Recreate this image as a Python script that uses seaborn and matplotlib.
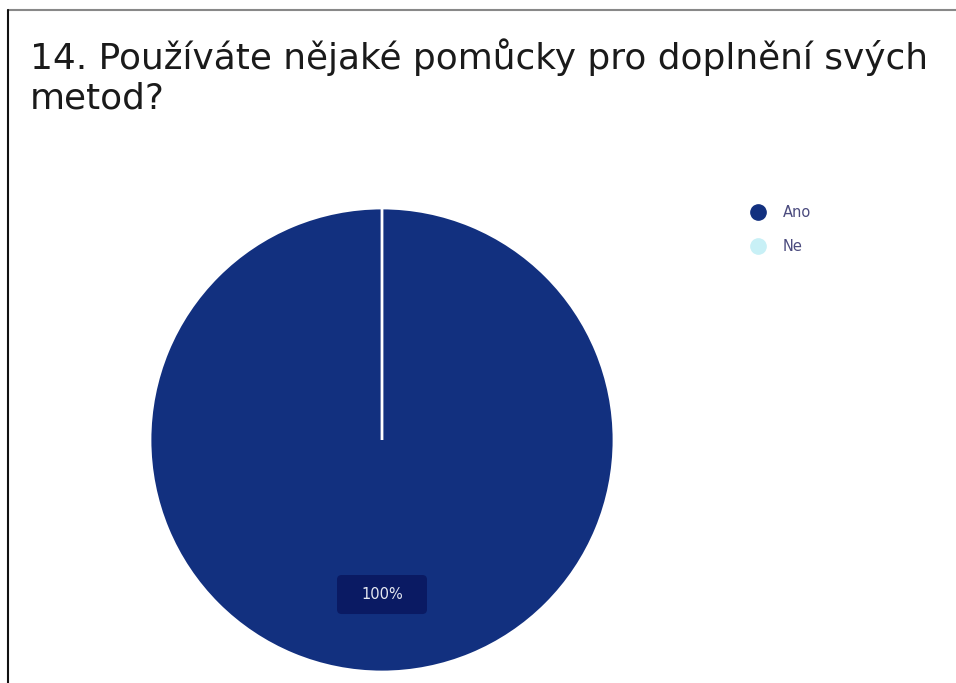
import matplotlib
matplotlib.use("Agg")
import matplotlib.pyplot as plt
from matplotlib.lines import Line2D
from matplotlib.patches import FancyBboxPatch
import seaborn as sns

categories = ["Ano", "Ne"]
values = [100, 0]
colors = ["#12307F", "#C8F0F6"]
title = "14. Používáte nějaké pomůcky pro doplnění svých\nmetod?"

sns.set_theme(style="white")
plt.rcParams['font.family'] = ['DejaVu Sans']

W, H = 956, 683
fig = plt.figure(figsize=(W / 100, H / 100), dpi=100)
fig.patch.set_facecolor("white")

cx, cy, r = 382, 440, 232
ax = fig.add_axes([(cx - r) / W, (H - cy - r) / H, 2 * r / W, 2 * r / H])
wedges, _ = ax.pie(values, colors=colors, startangle=90, counterclock=False,
                   radius=1, wedgeprops=dict(edgecolor="white", linewidth=2.0))
ax.set_xlim(-1.0, 1.0)
ax.set_ylim(-1.0, 1.0)
ax.set_aspect("equal")
ax.axis("off")

total = sum(values)
pct = f"{values[0] / total * 100:.0f}%"
bw, bh, by = 90 / r, 39 / r, -0.666
ax.add_patch(FancyBboxPatch((-bw / 2, by - bh / 2), bw, bh,
                            boxstyle="round,pad=0,rounding_size=0.02",
                            fc="#0A1A63", ec="none", zorder=3))
ax.text(0, by, pct, ha="center", va="center", color="#E6E9F2", fontsize=10.5, zorder=4)

fig.text(30 / W, 1 - 77 / H, title, ha="left", va="center", fontsize=25.8,
         color="#1a1a1a", linespacing=1.22)

handles = [Line2D([0], [0], marker="o", linestyle="none", markersize=11,
                  markerfacecolor=c, markeredgecolor=c) for c in colors]
leg = fig.legend(handles, categories, loc="upper left",
                 bbox_to_anchor=(738 / W, 1 - 193 / H), frameon=False,
                 fontsize=10.5, labelspacing=1.35, handletextpad=1.05,
                 handlelength=1.2, borderpad=0.3)
for t in leg.get_texts():
    t.set_color("#4B4B7E")

fig.add_artist(Line2D([8 / W, 1], [1 - 10 / H, 1 - 10 / H], color="#888888", lw=1.5,
                      transform=fig.transFigure))
fig.add_artist(Line2D([8 / W, 8 / W], [0, 1 - 10 / H], color="#111111", lw=1.5,
                      transform=fig.transFigure))

fig.savefig("out.png", dpi=100, facecolor="white")
